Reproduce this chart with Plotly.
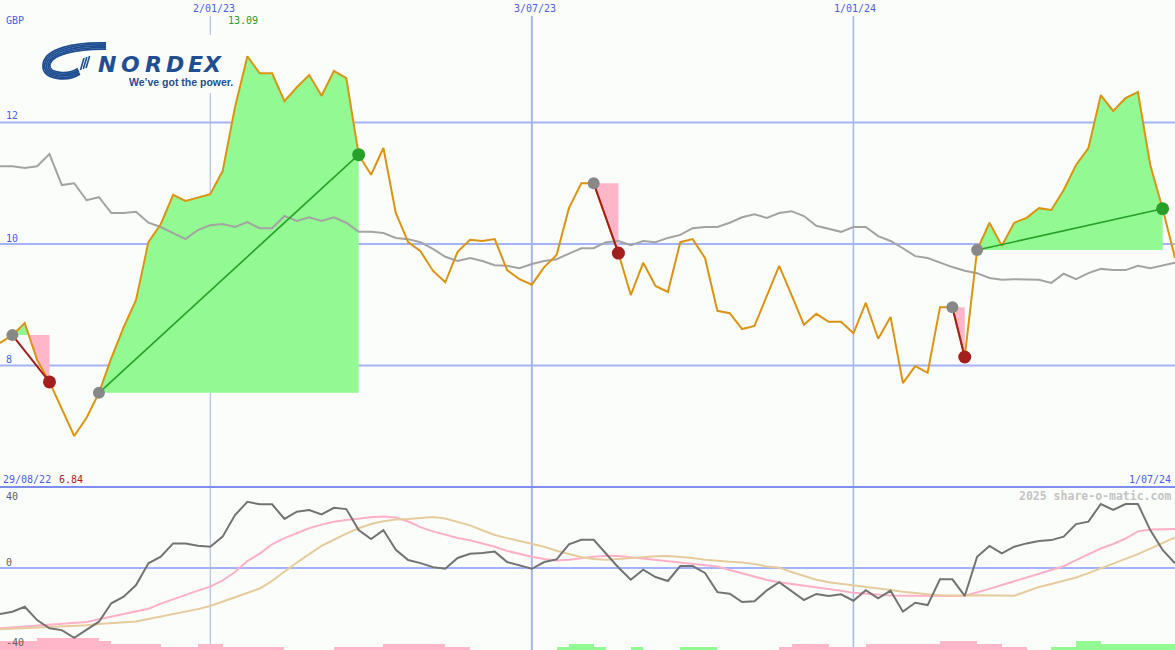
import numpy as np
import pandas as pd
import plotly.graph_objects as go

W, H = 1175, 650

# ---------------- data ----------------
start_date = '2022-09-05'
dates = pd.date_range(start_date, periods=96, freq='7D')

price = [8.37, 8.50, 8.70, 8.09, 7.73, 7.27, 6.84, 7.14, 7.55, 8.12,
         8.63, 9.08, 10.03, 10.33, 10.81, 10.71, 10.77, 10.82, 11.20, 12.25,
         13.09, 12.81, 12.81, 12.35, 12.58, 12.78, 12.44, 12.85, 12.73, 11.47,
         11.14, 11.58, 10.51, 10.03, 9.88, 9.56, 9.37, 9.87, 10.07, 10.05,
         10.08, 9.57, 9.42, 9.33, 9.62, 9.82, 10.59, 11.00, 11.00, 10.43,
         9.85, 9.16, 9.69, 9.31, 9.21, 10.03, 10.08, 9.77, 8.90, 8.86,
         8.60, 8.65, 9.14, 9.64, 9.16, 8.67, 8.85, 8.72, 8.72, 8.53,
         9.03, 8.44, 8.80, 7.71, 7.99, 7.88, 8.96, 8.96, 8.14, 9.90,
         10.35, 9.97, 10.35, 10.43, 10.59, 10.56, 10.89, 11.30, 11.58, 12.45,
         12.19, 12.40, 12.50, 11.30, 10.58, 9.77]

avg_line = [11.28, 11.28, 11.25, 11.28, 11.48, 10.97, 11.00, 10.72, 10.77, 10.51,
            10.51, 10.53, 10.35, 10.28, 10.18, 10.08, 10.23, 10.31, 10.33, 10.28,
            10.36, 10.26, 10.26, 10.46, 10.38, 10.44, 10.38, 10.44, 10.35, 10.20,
            10.20, 10.18, 10.10, 10.08, 10.03, 9.92, 9.79, 9.72, 9.77, 9.72,
            9.65, 9.64, 9.60, 9.67, 9.72, 9.75, 9.84, 9.93, 9.93, 10.03,
            10.05, 9.98, 10.05, 10.03, 10.10, 10.15, 10.26, 10.28, 10.28, 10.35,
            10.44, 10.49, 10.43, 10.51, 10.54, 10.46, 10.30, 10.25, 10.20, 10.28,
            10.28, 10.13, 10.05, 9.93, 9.80, 9.77, 9.69, 9.62, 9.56, 9.52,
            9.44, 9.41, 9.42, 9.41, 9.41, 9.36, 9.51, 9.42, 9.52, 9.59,
            9.57, 9.57, 9.64, 9.60, 9.64, 9.69]

osc = [-25.2, -23.9, -21.2, -28.5, -33.0, -34.0, -38.2, -33.6, -29.4, -19.3,
       -15.7, -9.3, 2.6, 6.2, 13.5, 13.5, 12.2, 11.7, 17.2, 29.0,
       36.3, 34.9, 34.9, 26.9, 30.9, 31.8, 29.4, 33.0, 32.3, 20.8,
       15.9, 20.8, 10.0, 4.4, 2.7, 0.5, -0.4, 5.5, 7.8, 8.2,
       9.0, 3.3, 1.5, -0.4, 3.3, 4.7, 13.0, 15.5, 15.5, 7.7,
       0.3, -6.4, -0.9, -4.9, -7.1, 1.1, 1.1, -2.7, -13.2, -14.1,
       -18.6, -18.2, -12.2, -7.7, -12.6, -17.5, -14.2, -15.3, -14.4, -17.9,
       -12.1, -16.6, -12.4, -23.9, -19.0, -20.3, -6.2, -6.2, -15.3, 6.2,
       12.1, 8.1, 11.7, 13.5, 14.8, 15.3, 17.2, 24.1, 25.4, 35.1,
       31.8, 35.1, 35.1, 20.8, 9.9, 2.6]

signal_pink = [-33.0, -32.5, -31.9, -31.2, -30.7, -30.2, -30.1, -29.6, -28.1, -26.7,
               -25.4, -24.1, -22.3, -19.5, -17.0, -14.6, -12.4, -10.2, -6.8, -2.2,
               3.8, 7.9, 13.0, 16.4, 19.2, 21.8, 23.8, 25.4, 26.3, 27.2,
               27.8, 28.2, 27.7, 25.5, 22.4, 20.1, 18.1, 16.5, 15.2, 13.4,
               11.7, 9.4, 7.6, 6.2, 5.0, 4.1, 4.5, 5.5, 6.2, 6.8,
               6.6, 5.9, 5.2, 4.4, 3.6, 3.1, 2.6, 1.8, 0.8, -1.1,
               -3.0, -4.9, -6.5, -7.8, -8.7, -9.6, -10.4, -11.5, -12.5, -13.6,
               -14.2, -14.9, -15.1, -15.2, -15.3, -15.3, -15.3, -15.3, -15.2, -13.4,
               -11.4, -9.3, -7.3, -5.3, -3.3, -1.3, 1.0, 4.3, 7.7, 10.7,
               13.2, 16.1, 20.1, 21.1, 21.2, 21.4]

signal_tan = [-33.6, -33.3, -32.9, -32.7, -32.5, -32.3, -31.8, -31.3, -30.7, -30.2,
              -29.8, -29.3, -27.9, -26.6, -25.3, -24.1, -22.5, -20.8, -18.5, -16.2,
              -13.7, -11.2, -7.0, -1.9, 3.0, 7.6, 12.1, 15.5, 18.9, 21.8,
              24.1, 25.6, 26.6, 26.9, 27.4, 27.9, 27.1, 25.4, 23.4, 20.7,
              18.1, 16.4, 14.7, 13.3, 11.7, 9.5, 7.6, 5.9, 5.0, 4.6,
              5.0, 5.5, 6.1, 6.5, 6.6, 6.1, 5.5, 4.6, 3.8, 3.4,
              3.0, 2.2, 0.9, 0.2, -2.2, -4.5, -6.4, -7.8, -8.6, -9.3,
              -10.1, -11.0, -12.0, -13.0, -13.9, -14.4, -14.9, -15.2, -15.1, -14.9,
              -14.8, -15.0, -15.2, -12.8, -10.4, -8.7, -7.0, -5.2, -2.8, -0.3,
              2.2, 4.9, 7.6, 10.6, 13.7, 16.8]

# trend strength steps (negative = pink, positive = green)
trend_steps = [-3, -3, -3, -4, -4, -4, -4, -4, -3, -2,
               -2, -2, -2, -1, -1, -1, -2, -2, -1, -1,
               -1, -1, -1, 0, 0, 0, 0, -1, -1, -1,
               -1, -2, -2, -2, -2, -2, -1, -1, 0, 0,
               0, 0, 0, 0, 0, 1, 2, 2, 1, 0,
               0, 1, 0, 0, 0, 1, 1, 1, 0, 0,
               0, 0, 0, -1, -2, -2, -2, -1, -1, -1,
               -2, -2, -2, -2, -2, -2, -3, -3, -3, -2,
               -2, -1, -1, 0, 0, 1, 1, 3, 3, 2,
               2, 2, 2, 2, 2, 2]

entry_dates = ['2022-09-12', '2022-10-31', '2023-08-07', '2024-02-26', '2024-03-11']
exit_dates = ['2022-10-03', '2023-03-27', '2023-08-21', '2024-03-04', '2024-06-24']

vline_dates = ['2023-01-02', '2023-07-03', '2024-01-01']
vline_labels = ['2/01/23', '3/07/23', '1/01/24']
price_ticks = [8, 10, 12]
ind_ticks = [40, 0, -40]

# ---------------- styling ----------------
BG = '#fbfdfb'
GRID = '#a4b4f4'
BLUE_TXT = '#4a5cf0'
PRICE_COL = '#dc9410'
MA_COL = '#a3a3a3'
GREEN_FILL = '#93f993'
PINK_FILL = '#ffb6c9'
MONO = 'DejaVu Sans Mono'

P_MIN, P_MAX = 6.0, 14.016
I_MIN, I_MAX = -44.9, 44.4
SPLIT = 487  # px
STEP = 1.64  # indicator units per histogram step

def px(x):
    return x / W

def py(y):
    return 1 - y / H

fig = go.Figure()

# histogram steps
bar_col = [GREEN_FILL if v > 0 else PINK_FILL for v in trend_steps]
fig.add_trace(go.Bar(x=dates, y=[abs(v) * STEP for v in trend_steps], base=I_MIN,
                     offset=0, width=7 * 24 * 3600 * 1000,
                     marker=dict(color=bar_col, line=dict(width=0)),
                     xaxis='x', yaxis='y2', hoverinfo='skip'))

# indicator lines
fig.add_trace(go.Scatter(x=dates, y=signal_pink, mode='lines', line=dict(color='#ffb0c8', width=2),
                         xaxis='x', yaxis='y2'))
fig.add_trace(go.Scatter(x=dates, y=signal_tan, mode='lines', line=dict(color='#e6cc9c', width=2),
                         xaxis='x', yaxis='y2'))
fig.add_trace(go.Scatter(x=dates, y=osc, mode='lines', line=dict(color='#737373', width=2),
                         xaxis='x', yaxis='y2'))

# trade fills
idx_entry = [dates.get_loc(pd.Timestamp(d)) for d in entry_dates]
idx_exit = [dates.get_loc(pd.Timestamp(d)) for d in exit_dates]

def trade_polys(a, b):
    base = price[a]
    up_x, up_y = [dates[a]], [base]
    dn_x, dn_y = [dates[a]], [base]
    for k in range(a, b + 1):
        if k > a:
            p0, p1 = price[k - 1] - base, price[k] - base
            if p0 * p1 < 0:
                t = p0 / (p0 - p1)
                xc = dates[k - 1] + (dates[k] - dates[k - 1]) * t
                up_x.append(xc); up_y.append(base)
                dn_x.append(xc); dn_y.append(base)
        up_x.append(dates[k]); up_y.append(max(price[k], base))
        dn_x.append(dates[k]); dn_y.append(min(price[k], base))
    up_x.append(dates[b]); up_y.append(base)
    dn_x.append(dates[b]); dn_y.append(base)
    return (up_x, up_y), (dn_x, dn_y)

for a, b in zip(idx_entry, idx_exit):
    (ux, uy), (dx, dy) = trade_polys(a, b)
    fig.add_trace(go.Scatter(x=ux, y=uy, mode='lines', fill='toself', fillcolor=GREEN_FILL,
                             line=dict(width=0), xaxis='x', yaxis='y', hoverinfo='skip'))
    fig.add_trace(go.Scatter(x=dx, y=dy, mode='lines', fill='toself', fillcolor=PINK_FILL,
                             line=dict(width=0), xaxis='x', yaxis='y', hoverinfo='skip'))

# moving average
fig.add_trace(go.Scatter(x=dates, y=avg_line, mode='lines', line=dict(color=MA_COL, width=2),
                         xaxis='x', yaxis='y'))
# price
fig.add_trace(go.Scatter(x=dates, y=price, mode='lines', line=dict(color=PRICE_COL, width=2),
                         xaxis='x', yaxis='y'))

# trade connectors and markers
for a, b in zip(idx_entry, idx_exit):
    win = price[b] > price[a]
    col = '#26a026' if win else '#a51e1e'
    fig.add_trace(go.Scatter(x=[dates[a], dates[b]], y=[price[a], price[b]], mode='lines',
                             line=dict(color=col, width=2 if not win else 1.6),
                             xaxis='x', yaxis='y'))
    fig.add_trace(go.Scatter(x=[dates[a]], y=[price[a]], mode='markers',
                             marker=dict(color='#888888', size=12, line=dict(width=0)),
                             xaxis='x', yaxis='y'))
    fig.add_trace(go.Scatter(x=[dates[b]], y=[price[b]], mode='markers',
                             marker=dict(color=col, size=13, line=dict(width=0)),
                             xaxis='x', yaxis='y'))

# ---------------- shapes ----------------
shapes = []
for v in price_ticks:
    shapes.append(dict(type='line', xref='paper', yref='y', x0=0, x1=1, y0=v, y1=v,
                       line=dict(color=GRID, width=2), layer='below'))
shapes.append(dict(type='line', xref='paper', yref='y2', x0=0, x1=1, y0=0, y1=0,
                   line=dict(color=GRID, width=2), layer='below'))
vl_style = [dict(color='#aab2dc', width=1), dict(color=GRID, width=2), dict(color=GRID, width=1.5)]
for d, st in zip(vline_dates, vl_style):
    shapes.append(dict(type='line', xref='x', yref='paper', x0=d, x1=d, y0=0, y1=py(16),
                       line=st, layer='below'))
# logo box covering the grid behind the logo
shapes.append(dict(type='rect', xref='paper', yref='paper', x0=px(38), x1=px(231), y0=py(93), y1=py(35),
                   fillcolor=BG, line=dict(width=0), layer='below'))
# panel separator
shapes.append(dict(type='line', xref='paper', yref='paper', x0=0, x1=1, y0=py(SPLIT), y1=py(SPLIT),
                   line=dict(color='#7d8df0', width=2), layer='above'))

# logo swoosh (drawn as stripes)
LOGO = '#1f4f92'

def pt(x, y):
    return f'{px(x):.5f},{py(y):.5f}'

for k in range(5):
    s = 1.7 * k
    path = ('M ' + pt(106, 43 + 0.9 * s) +
            ' C ' + pt(76, 42 + s) + ' ' + pt(43 + s, 48 + s) + ' ' + pt(43 + s, 66) +
            ' C ' + pt(43 + s, 80 - s) + ' ' + pt(68, 82 - s) + ' ' + pt(80 - 0.3 * s, 74 - 0.8 * s))
    shapes.append(dict(type='path', xref='paper', yref='paper', path=path,
                       line=dict(color=LOGO, width=1.8), layer='above'))
for k in range(3):
    x0 = 80.5 + 2.8 * k
    shapes.append(dict(type='line', xref='paper', yref='paper', x0=px(x0), y0=py(70 - k),
                       x1=px(x0 + 3.5), y1=py(58 - k), line=dict(color=LOGO, width=1.6), layer='above'))

# ---------------- annotations ----------------
annots = []

def ann(text, x, y, color, size=10, xanchor='left', family=MONO, bold=False, italic=False):
    t = f'<b>{text}</b>' if bold else text
    if italic:
        t = f'<i>{t}</i>'
    annots.append(dict(text=t, x=px(x), y=py(y), xref='paper', yref='paper', showarrow=False,
                       xanchor=xanchor, yanchor='middle',
                       font=dict(family=family, size=size, color=color)))

ann('GBP', 4, 21, BLUE_TXT)
for d, lab, xc in zip(vline_dates, vline_labels, [214, 535, 855]):
    ann(lab, xc, 9, BLUE_TXT, xanchor='center')
ann(f'{max(price):.2f}', 226, 21, '#2a9a2a')
for v, yy in zip(price_ticks, [359, 238, 116]):
    ann(str(v), 4, yy, BLUE_TXT)
ann('29/08/22', 1, 479, BLUE_TXT)
ann(f'{min(price):.2f}', 57, 479, '#a31c1c')
ann('1/07/24', 1173, 479, BLUE_TXT, xanchor='right')
for v, yy in zip(ind_ticks, [496, 562, 642]):
    ann(str(v), 4, yy, '#606060')
ann('2025 share-o-matic.com', 1173, 496, '#c4c4c4', size=11.5, xanchor='right', bold=True)

# logo text
for ch, xc in zip('NORDEX', [106.5, 130, 153, 175, 195, 212]):
    ann(ch, xc, 64.5, LOGO, size=22, xanchor='center', family='DejaVu Sans', bold=True, italic=True)
ann("We\u2019ve got the power.", 127, 82, LOGO, size=10.5, family='Liberation Sans', bold=True)

fig.update_layout(
    width=W, height=H, margin=dict(l=0, r=0, t=0, b=0),
    paper_bgcolor=BG, plot_bgcolor=BG, showlegend=False, bargap=0,
    xaxis=dict(range=[dates[0], dates[-1]], visible=False, fixedrange=True),
    yaxis=dict(domain=[1 - SPLIT / H, 1], range=[P_MIN, P_MAX], visible=False, fixedrange=True),
    yaxis2=dict(domain=[0, 1 - SPLIT / H], range=[I_MIN, I_MAX], visible=False, anchor='x', fixedrange=True),
    shapes=shapes, annotations=annots,
)

fig.write_html("out.html", config={'displayModeBar': False},
               post_script="document.body.style.margin='0px';")
